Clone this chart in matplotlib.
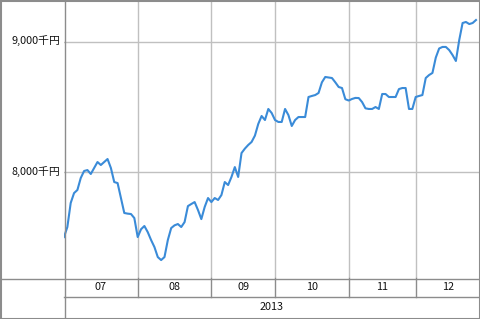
import matplotlib
matplotlib.use("Agg")
import matplotlib.pyplot as plt
from matplotlib.lines import Line2D
from matplotlib.patches import Rectangle

plt.rcParams['font.family'] = ['Noto Sans CJK JP', 'DejaVu Sans']

# daily values (trading days, Jul-Dec 2013), in thousand yen
values = [7500, 7577, 7762, 7838, 7862, 7954, 8008, 8015, 7985, 8031,
          8077, 8054, 8077, 8100, 8031, 7923, 7915, 7800, 7685, 7680,
          7677, 7646, 7500, 7560, 7585, 7538, 7477, 7423, 7346, 7323,
          7346, 7477, 7569, 7590, 7600, 7577, 7615, 7738, 7754, 7769,
          7708, 7638, 7731, 7800, 7769, 7800, 7785, 7823, 7923, 7900,
          7962, 8038, 7962, 8146, 8180, 8208, 8231, 8280, 8370, 8431,
          8400, 8485, 8454, 8400, 8385, 8385, 8485, 8438, 8354, 8400,
          8423, 8423, 8423, 8577, 8585, 8592, 8608, 8690, 8731, 8727,
          8723, 8690, 8654, 8646, 8560, 8550, 8562, 8570, 8569, 8538,
          8490, 8485, 8485, 8500, 8485, 8600, 8600, 8577, 8577, 8577,
          8638, 8646, 8646, 8485, 8485, 8577, 8585, 8592, 8723, 8746,
          8762, 8880, 8950, 8962, 8962, 8938, 8900, 8854, 9015, 9146,
          9154, 9138, 9146, 9169]
days = list(range(len(values)))

# month boundaries as trading-day index
month_starts = [0, 22, 44, 63, 85, 105, 124.2]
month_labels = ["07", "08", "09", "10", "11", "12"]
year_label = "2013"
y_ticks = [8000, 9000]
y_tick_labels = ["8,000千円", "9,000千円"]

W, H = 480, 319
fig = plt.figure(figsize=(W / 100, H / 100), dpi=100)
ax = fig.add_axes([64 / W, (H - 278) / H, 416 / W, 278 / H])

grid_c = "#c0c0c0"
edge_c = "#8c8c8c"
text_c = "#111111"

for t in y_ticks:
    ax.axhline(t, color=grid_c, lw=1)
for m in month_starts[1:-1]:
    ax.axvline(m, color=grid_c, lw=1)

ax.plot(days, values, color="#3a8bd8", lw=1.5, solid_joinstyle="round")

ax.set_xlim(0, 124.2)
ax.set_ylim(7185, 9323)
ax.set_xticks([])
ax.set_yticks([])
for s in ax.spines.values():
    s.set_visible(False)

# y labels in the left column
ytr = ax.get_yaxis_transform()
for t, lab in zip(y_ticks, y_tick_labels):
    ax.text(-4 / 416, t, lab, transform=ytr, ha="right", va="center",
            fontsize=7.8, color=text_c)

# month / year table below the plot
xtr = ax.get_xaxis_transform()
row1 = -19 / 278
row2 = -40 / 278
for i, lab in enumerate(month_labels):
    a, b = month_starts[i], month_starts[i + 1]
    ax.text((a + b) / 2, row1 / 2, lab, transform=xtr, ha="center",
            va="center", fontsize=7.8, color=text_c)
    if i > 0:
        ax.add_line(Line2D([a, a], [row1, 0], transform=xtr, color=edge_c,
                           lw=1, clip_on=False))
ax.add_line(Line2D([0, 124.2], [row1, row1], transform=xtr, color=edge_c,
                   lw=1, clip_on=False))
ax.text(62, (row1 + row2) / 2, year_label, transform=xtr, ha="center",
        va="center", fontsize=7.8, color=text_c)


def px(x, y):
    return (x + 0.5) / W, 1 - (y + 0.5) / H


# left column divider and plot bottom edge
x0, y0 = px(64, 0)
x1, y1 = px(64, 318)
fig.add_artist(Line2D([x0, x1], [y0, y1], color=edge_c, lw=1))
x0, y0 = px(0, 278)
x1, y1 = px(479, 278)
fig.add_artist(Line2D([x0, x1], [y0, y1], color=edge_c, lw=1))

# outer border
fig.add_artist(Rectangle((0.5 / W, 0.5 / H), (W - 1) / W, (H - 1) / H,
                         fill=False, edgecolor=edge_c, lw=1.5,
                         transform=fig.transFigure))

fig.savefig("out.png", dpi=100)
